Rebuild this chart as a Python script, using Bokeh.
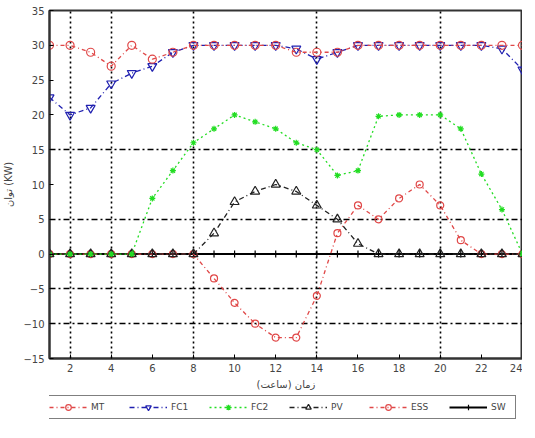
from bokeh.plotting import figure
from bokeh.models import FixedTicker, Legend, LegendItem
from bokeh.layouts import column
from bokeh.embed import file_html
from bokeh.resources import INLINE

hours = list(range(1, 25))
mt  = [30, 30, 29, 27, 30, 28, 29, 30, 30, 30, 30, 30, 29, 29, 29, 30, 30, 30, 30, 30, 30, 30, 30, 30]
fc1 = [22.5, 20, 21, 24.5, 26, 27, 29, 30, 30, 30, 30, 30, 29.5, 28, 29, 30, 30, 30, 30, 30, 30, 30, 29.5, 26.5]
fc2 = [0, 0, 0, 0, 0, 8, 12, 16, 18, 20, 19, 18, 16, 15, 11.3, 12, 19.8, 20, 20, 20, 18, 11.5, 6.4, 0]
pv  = [0, 0, 0, 0, 0, 0, 0, 0, 3, 7.5, 9, 10, 9, 7, 5, 1.5, 0, 0, 0, 0, 0, 0, 0, 0]
ess = [0, 0, 0, 0, 0, 0, 0, 0, -3.5, -7, -10, -12, -12, -6, 3, 7, 5, 8, 10, 7, 2, 0, 0, 0]
sw  = [0] * 24

x_ticks = list(range(2, 25, 2))
y_ticks = list(range(-15, 36, 5))
x_grid = [2, 4, 8, 14, 20]
y_grid = [-10, -5, 5, 15]

FONT = "DejaVu Sans"

p = figure(frame_width=473, frame_height=348, x_range=(1, 24), y_range=(-15, 35),
           output_backend="svg", toolbar_location=None,
           min_border_left=46, min_border_right=0, min_border_top=10, min_border_bottom=0)

p.xaxis.ticker = FixedTicker(ticks=x_ticks)
p.yaxis.ticker = FixedTicker(ticks=y_ticks)
p.xgrid.ticker = FixedTicker(ticks=x_grid)
p.ygrid.ticker = FixedTicker(ticks=y_grid)
p.xgrid.grid_line_color = "black"
p.xgrid.grid_line_dash = "2 3"
p.xgrid.grid_line_width = 1.6
p.ygrid.grid_line_color = "black"
p.ygrid.grid_line_dash = "6 3 2 3"
p.ygrid.grid_line_width = 1.4

p.outline_line_color = "#333333"
p.outline_line_width = 2
for ax in (p.xaxis, p.yaxis):
    ax.axis_line_width = 2
    ax.axis_line_color = "#333333"
    ax.major_tick_in = 4
    ax.major_tick_out = 0
    ax.minor_tick_line_color = None
    ax.major_label_text_font = FONT
    ax.major_label_text_font_size = "10px"
    ax.major_label_text_color = "#444444"
    ax.axis_label_text_font = FONT
    ax.axis_label_text_font_size = "10px"
    ax.axis_label_text_font_style = "normal"
    ax.axis_label_text_color = "#444444"
p.xaxis.axis_label = "زمان (ساعت)"
p.yaxis.axis_label = "توان (KW)"
p.xaxis.axis_label_standoff = 4
p.yaxis.axis_label_standoff = 6

# small figure that only carries the legend
lf = figure(width=519, height=32, x_range=(1, 24), y_range=(1000, 1001),
            output_backend="svg", toolbar_location=None,
            min_border_left=0, min_border_right=0, min_border_top=0, min_border_bottom=0)
lf.axis.visible = False
lf.grid.visible = False
lf.outline_line_color = None

items = []

def series(label, y, color, dash, marker, msize, fill=None, lw=1.3):
    p.line(hours, y, line_color=color, line_dash=dash, line_width=lw)
    p.scatter(hours, y, marker=marker, size=msize, line_color=color,
              fill_color=fill, line_width=1.2)
    r1 = lf.line(hours, y, line_color=color, line_dash=dash, line_width=lw)
    r2 = lf.scatter(hours, y, marker=marker, size=msize, line_color=color,
                    fill_color=fill, line_width=1.2)
    items.append(LegendItem(label=label, renderers=[r1, r2]))

series("SW", sw, "black", "solid", "cross", 7, lw=2)
series("ESS", ess, "#e04848", "4 3 1 3", "circle", 7)
series("PV", pv, "#222222", "5 3 1 3", "triangle", 9)
series("FC2", fc2, "#22dd22", "2 3", "asterisk", 6)
series("FC1", fc1, "#2020b0", "5 3 1 3", "inverted_triangle", 9)
series("MT", mt, "#e04848", "4 3 1 3", "circle", 8)

legend = Legend(items=items[::-1], orientation="horizontal", location="top_right",
                label_text_font=FONT, label_text_font_size="9px", label_text_color="#444444",
                border_line_color="black", border_line_width=1.5,
                glyph_width=38, glyph_height=14, spacing=18, padding=4, margin=3,
                label_standoff=4, label_height=12)
lf.add_layout(legend)

open("out.html", "w").write(file_html(column(p, lf, spacing=0), INLINE))
